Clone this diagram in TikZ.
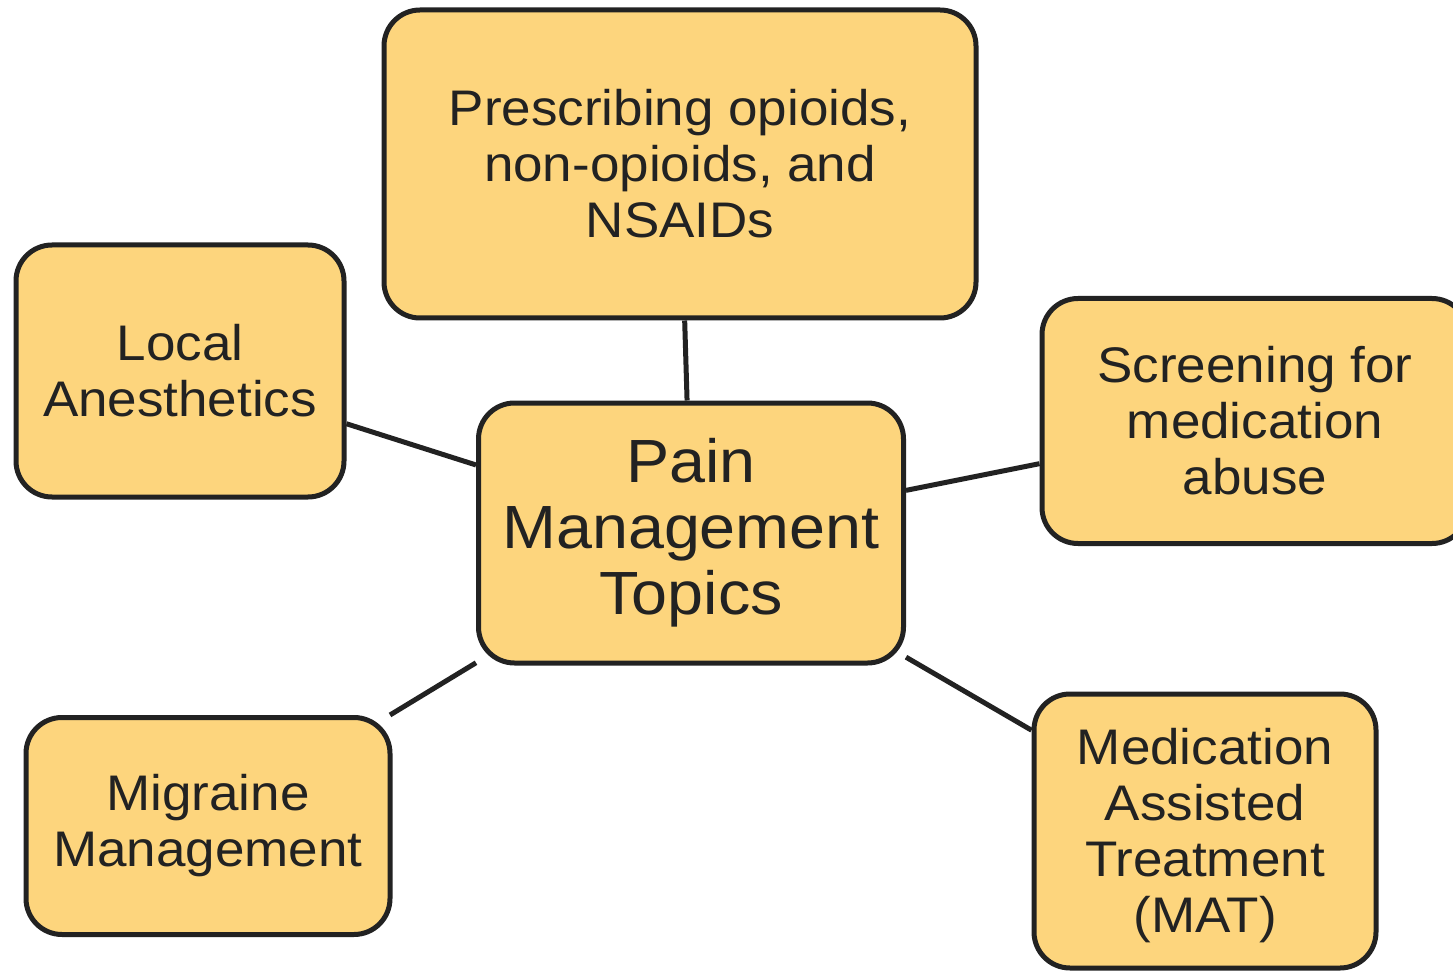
\documentclass[tikz,border=0pt]{standalone}
\usepackage{fontspec}
\setmainfont[FakeStretch=1.06]{Liberation Sans}
\definecolor{boxfill}{HTML}{FDD57D}
\definecolor{boxline}{HTML}{222222}
\begin{document}
\begin{tikzpicture}[x=1pt,y=-1pt,
  topic/.style={draw=boxline, line width=5pt, fill=boxfill, rounded corners=36pt,
    align=center, inner sep=0pt, text=boxline,
    font=\fontsize{50}{56}\selectfont},
  hub/.style={topic, font=\fontsize{61}{66}\selectfont},
  link/.style={draw=boxline, line width=5pt}]
\useasboundingbox (0,0) rectangle (1453,973);
\node[topic, minimum width=592pt, minimum height=308pt] (presc) at (680,164)
  {Prescribing opioids,\\non-opioids, and\\NSAIDs};
\node[topic, minimum width=328pt, minimum height=252pt] (local) at (180,371)
  {Local\\Anesthetics};
\node[hub, minimum width=425pt, minimum height=260pt] (hub) at (691,533)
  {Pain\\Management\\Topics};
\node[topic, minimum width=426pt, minimum height=245pt] (screen) at (1255,421)
  {Screening for\\medication\\abuse};
\node[topic, minimum width=364pt, minimum height=217pt] (migr) at (208,826)
  {Migraine\\Management};
\node[topic, minimum width=342pt, minimum height=274pt] (mat) at (1205,831)
  {\raisebox{-6pt}[\height][\depth]{\begin{tabular}{@{}c@{}}Medication\\Assisted\\Treatment\\(MAT)\end{tabular}}};
\draw[link] (presc) -- (hub);
\draw[link] (local) -- (hub);
\draw[link] (screen) -- (hub);
\draw[link] (migr) -- (hub);
\draw[link] (mat) -- (hub);
\end{tikzpicture}
\end{document}
